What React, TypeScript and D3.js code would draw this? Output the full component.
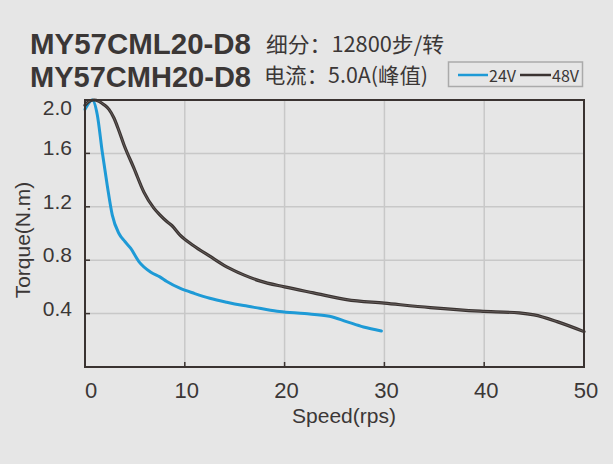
import React from "react";
import * as d3 from "d3";

const speeds24 = [0, 0.23, 0.73, 1.23, 1.73, 2.23, 2.73, 3.4, 4.0, 4.57, 5.4, 6.6, 7.5, 8.2, 9.5, 11, 12.5, 14.2, 15.9, 17.5, 19.5, 22, 24.5, 26.2, 27.9, 29.7];
const torque24 = [1.93, 1.96, 2.0, 1.89, 1.61, 1.36, 1.14, 1.0, 0.94, 0.89, 0.79, 0.71, 0.675, 0.64, 0.59, 0.55, 0.515, 0.485, 0.46, 0.44, 0.415, 0.4, 0.38, 0.34, 0.3, 0.27];

const speeds48 = [0, 0.4, 0.9, 1.4, 1.9, 2.4, 2.9, 3.4, 3.9, 4.9, 5.9, 6.9, 7.5, 8.2, 8.7, 9.5, 10.85, 12.5, 14.2, 15.9, 17.5, 20, 22.9, 26.2, 30, 34.6, 39.6, 43.5, 45, 47.3, 50];
const torque48 = [1.96, 1.99, 2.0, 1.99, 1.965, 1.93, 1.865, 1.77, 1.665, 1.49, 1.31, 1.19, 1.14, 1.09, 1.06, 0.99, 0.91, 0.83, 0.75, 0.69, 0.645, 0.6, 0.555, 0.505, 0.478, 0.445, 0.418, 0.405, 0.39, 0.34, 0.265];

const xTicks = [0, 10, 20, 30, 40, 50];
const yTicks = [0.4, 0.8, 1.2, 1.6, 2.0];
const yTickLabels = ["0.4", "0.8", "1.2", "1.6", "2.0"];

const titleLines = ["MY57CML20-D8", "MY57CMH20-D8"];
const specLines = ["细分：12800步/转", "电流：5.0A(峰值)"];
const legendLabels = ["24V", "48V"];

const W = 613, H = 464;
const L = 85, R = 584, T = 100, B = 367;
const BG = "#e6e6e6";
const TXT = "#3b3736";
const BLUE = "#1e9ad6";
const DARK = "#3a3331";
const FONT = "'Noto Sans CJK SC', 'Noto Sans', sans-serif";
const LFONT = "'Liberation Sans', Arial, sans-serif";

export default function App() {
  const x = d3.scaleLinear().domain([0, 50]).range([L, R]);
  const y = d3.scaleLinear().domain([0, 2.0]).range([B, T]);
  const line = d3.line<[number, number]>().x(d => x(d[0])).y(d => y(d[1])).curve(d3.curveMonotoneX);
  const p24 = line(speeds24.map((s, i) => [s, torque24[i]] as [number, number])) || "";
  const p48 = line(speeds48.map((s, i) => [s, torque48[i]] as [number, number])) || "";

  return (
    <svg width={W} height={H} style={{ position: "absolute", left: 0, top: 0, background: BG }} fontFamily={FONT}>
      <rect x={0} y={0} width={W} height={H} fill={BG} />
      {/* titles */}
      {titleLines.map((t, i) => (
        <text key={t} x={30} y={54 + i * 33} fontSize={29} fontWeight={700} fontFamily={LFONT} fill={TXT} textLength={221} lengthAdjust="spacingAndGlyphs">{t}</text>
      ))}
      <text x={266} y={52} fontSize={21} fill={TXT} textLength={178} lengthAdjust="spacingAndGlyphs">{specLines[0]}</text>
      <text x={264} y={83} fontSize={21} fill={TXT} textLength={164} lengthAdjust="spacingAndGlyphs">{specLines[1]}</text>
      {/* legend */}
      <rect x={448.5} y={62} width={134} height={24.5} fill={BG} stroke="#aaaaaa" strokeWidth={1.5} />
      <line x1={458} x2={488} y1={75} y2={75} stroke={BLUE} strokeWidth={2.5} />
      <text x={489} y={81.5} fontSize={16} fill={TXT} textLength={27} lengthAdjust="spacingAndGlyphs">{legendLabels[0]}</text>
      <line x1={520} x2={551} y1={75} y2={75} stroke={DARK} strokeWidth={2.5} />
      <text x={552} y={81.5} fontSize={16} fill={TXT} textLength={27} lengthAdjust="spacingAndGlyphs">{legendLabels[1]}</text>
      {/* grid */}
      {xTicks.slice(1, -1).map(v => (
        <line key={"gx" + v} x1={x(v)} x2={x(v)} y1={T} y2={B} stroke="#c8c8c8" strokeWidth={1.5} />
      ))}
      {yTicks.slice(0, -1).map(v => (
        <line key={"gy" + v} x1={L} x2={R} y1={y(v)} y2={y(v)} stroke="#c8c8c8" strokeWidth={1.5} />
      ))}
      {/* ticks */}
      {xTicks.slice(1, -1).map(v => (
        <line key={"tx" + v} x1={x(v)} x2={x(v)} y1={B} y2={B - 5} stroke={DARK} strokeWidth={1.5} />
      ))}
      {yTicks.slice(0, -1).map(v => (
        <line key={"ty" + v} x1={L} x2={L + 5} y1={y(v)} y2={y(v)} stroke={DARK} strokeWidth={1.5} />
      ))}
      {/* curves */}
      <path d={p24} fill="none" stroke={BLUE} strokeWidth={3} strokeLinejoin="round" strokeLinecap="round" />
      <path d={p48} fill="none" stroke={DARK} strokeWidth={3.2} strokeLinejoin="round" strokeLinecap="round" />
      <path d={p48} fill="none" stroke="#6a6260" strokeWidth={0.9} strokeLinejoin="round" />
      {/* frame */}
      <rect x={L} y={T} width={R - L} height={B - T} fill="none" stroke={DARK} strokeWidth={2} />
      {/* y labels */}
      {yTicks.map((v, i) => (
        <text key={"ly" + v} x={72} y={Math.max(y(v), 113) + 2} fontSize={21} fontFamily={LFONT} fill={TXT} textAnchor="end">{yTickLabels[i]}</text>
      ))}
      {/* x labels */}
      {xTicks.map(v => (
        <text key={"lx" + v} x={v === 0 ? x(v) : x(v) + 2} y={398} fontSize={22} fontFamily={LFONT} fill={TXT} textAnchor={v === 0 ? "start" : "middle"}>{v}</text>
      ))}
      <text x={344} y={423} fontSize={21} fontFamily={LFONT} fill={TXT} textAnchor="middle">Speed(rps)</text>
      <text transform="translate(30,240) rotate(-90)" fontSize={21} fontFamily={LFONT} fill={TXT} textAnchor="middle">Torque(N.m)</text>
    </svg>
  );
}
